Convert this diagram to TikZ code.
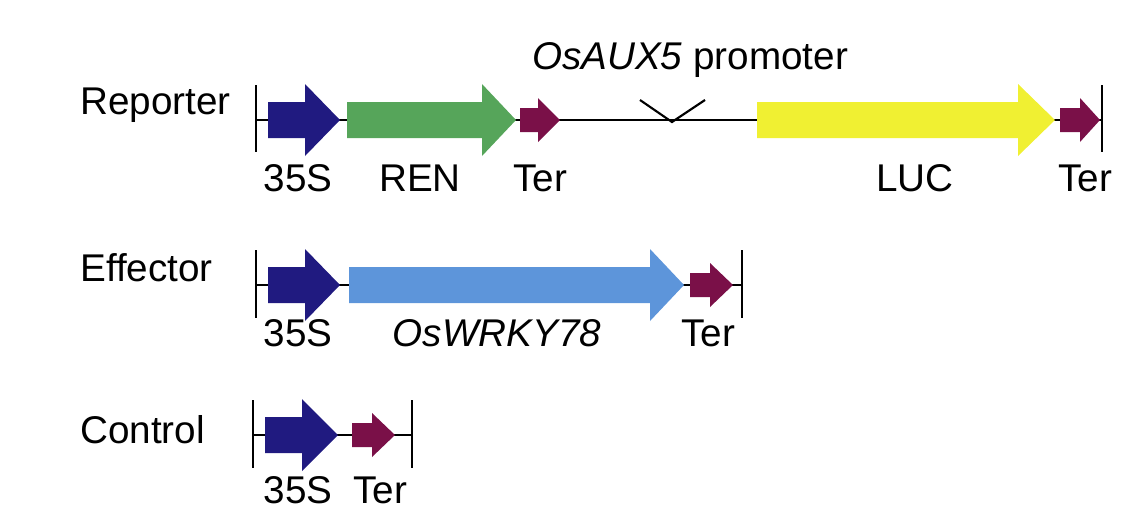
\documentclass[tikz,border=0pt]{standalone}
\usepackage{fontspec}
\setmainfont{Liberation Sans}
\definecolor{sblue}{HTML}{201A80}
\definecolor{rgreen}{HTML}{56A55A}
\definecolor{tred}{HTML}{7A1048}
\definecolor{lyellow}{HTML}{F0F032}
\definecolor{wblue}{HTML}{5D95DA}
% gene arrow: x start, x head, x tip, y, body half, head half, colour
\newcommand{\genearrow}[7]{%
  \fill[#7] (#1,#4-#5) -- (#2,#4-#5) -- (#2,#4-#6) -- (#3,#4) -- (#2,#4+#6) -- (#2,#4+#5) -- (#1,#4+#5) -- cycle;}
\tikzset{
  lbl/.style={font=\fontsize{22}{26}\selectfont, inner sep=0pt},
  bar/.style={line width=1.2pt}
}
\begin{document}
\begin{tikzpicture}[x=0.02cm,y=-0.02cm]
  \useasboundingbox (0,0) rectangle (1123,522);
  % Reporter
  \node[lbl, anchor=west] (rep) at (80,105) {Reporter};
  \draw[bar] (256,85) -- (256,152);
  \draw[bar] (1102,85) -- (1102,152);
  \draw[bar] (256,120) -- (1102,120);
  \draw[bar] (640,100) -- (672,122) -- (705,100);
  \genearrow{268}{305}{340}{120}{18}{36}{sblue}
  \genearrow{347}{482}{516}{120}{18}{36}{rgreen}
  \genearrow{520}{538}{560}{120}{12}{22}{tred}
  \genearrow{757}{1018}{1055}{120}{18}{36}{lyellow}
  \genearrow{1060}{1080}{1100}{120}{12}{22}{tred}
  \node[lbl] (prom) at (690,60) {\textit{OsAUX5} promoter};
  \node[lbl] (r35s) at (298,178) {35S};
  \node[lbl] (rren) at (420,178) {REN};
  \node[lbl] (rter) at (540,178) {Ter};
  \node[lbl] (rluc) at (915,178) {LUC};
  \node[lbl] (rter2) at (1085,178) {Ter};
  % Effector
  \node[lbl, anchor=west] (eff) at (80,268) {Effector};
  \draw[bar] (256,250) -- (256,318);
  \draw[bar] (742,250) -- (742,318);
  \draw[bar] (256,285) -- (742,285);
  \genearrow{268}{305}{340}{285}{18}{36}{sblue}
  \genearrow{349}{650}{684}{285}{18}{36}{wblue}
  \genearrow{690}{710}{733}{285}{12}{22}{tred}
  \node[lbl] (e35s) at (298,333) {35S};
  \node[lbl] (ewrky) at (497,333) {\textit{OsWRKY78}};
  \node[lbl] (eter) at (708,333) {Ter};
  % Control
  \node[lbl, anchor=west] (ctl) at (80,430) {Control};
  \draw[bar] (253,400) -- (253,468);
  \draw[bar] (412,400) -- (412,468);
  \draw[bar] (253,435) -- (412,435);
  \genearrow{265}{302}{338}{435}{18}{36}{sblue}
  \genearrow{352}{372}{395}{435}{12}{22}{tred}
  \node[lbl] (c35s) at (298,490) {35S};
  \node[lbl] (cter) at (380,490) {Ter};
\end{tikzpicture}
\end{document}
